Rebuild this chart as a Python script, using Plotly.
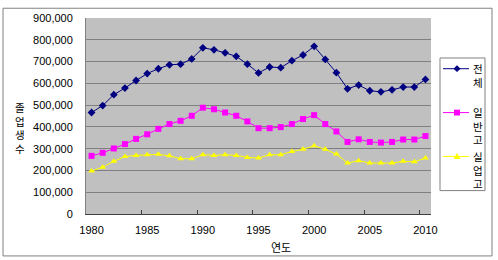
import plotly.graph_objects as go

years = list(range(1980, 2011))
total = [466000, 498000, 548000, 578000, 613000, 645000, 667000, 685000, 688000, 712000,
         763000, 754000, 740000, 724000, 688000, 648000, 675000, 672000, 704000, 730000,
         770000, 710000, 649000, 575000, 592000, 566000, 561000, 570000, 583000, 583000, 618000]
general = [267000, 281000, 301000, 321000, 345000, 366000, 391000, 413000, 428000, 451000,
           488000, 481000, 466000, 451000, 425000, 394000, 394000, 399000, 413000, 436000,
           454000, 413000, 379000, 331000, 343000, 331000, 328000, 331000, 342000, 342000, 358000]
vocational = [197000, 215000, 242000, 264000, 269000, 272000, 274000, 267000, 254000, 254000,
              272000, 269000, 272000, 269000, 260000, 257000, 272000, 272000, 287000, 297000,
              313000, 297000, 275000, 234000, 245000, 234000, 234000, 234000, 242000, 240000, 257000]
series_names = ["전체", "일반고", "실업고"]
x_labels = [1980, 1985, 1990, 1995, 2000, 2005, 2010]
y_ticks = list(range(0, 900001, 100000))
y_labels = ["0"] + [f"{v:,}" for v in y_ticks[1:]]
x_title = "연도"
y_title = "졸업생수"

FONT = "Liberation Sans, Arial, Noto Sans CJK KR, sans-serif"
KFONT = "Noto Sans CJK KR, sans-serif"

# plot area in pixels
L, R, T, B = 86, 431, 13, 214


def px(x):
    return (x - L) / (R - L)


def py(y):
    return (B - y) / (B - T)


fig = go.Figure()
styles = [("#000080", "diamond"), ("#FF00FF", "square"), ("#FFFF00", "triangle-up")]
for name, vals, (col, sym) in zip(series_names, [total, general, vocational], styles):
    fig.add_trace(go.Scatter(x=years, y=vals, name=name, mode="lines+markers",
                             line=dict(color=col, width=1),
                             marker=dict(color=col, symbol=sym, size=6)))

shapes = [
    dict(type="rect", xref="paper", yref="paper", x0=px(3), x1=px(492),
         y0=py(257), y1=py(3), line=dict(color="#808080", width=1), layer="below"),
    # legend box
    dict(type="rect", xref="paper", yref="paper", x0=px(440), x1=px(485),
         y0=py(190), y1=py(54), line=dict(color="#808080", width=1),
         fillcolor="white", layer="below"),
]


def vtext(text, x, y, size):
    return dict(text="<br>".join(text), xref="paper", yref="paper", x=px(x), y=py(y),
                showarrow=False, font=dict(size=size, family=KFONT),
                xanchor="center", yanchor="middle", borderpad=0)


annotations = [
    dict(text=x_title, xref="paper", yref="paper", x=px(281), y=py(248),
         showarrow=False, font=dict(size=11, family=KFONT), xanchor="center", yanchor="middle"),
    vtext(y_title, 20, 126, 10.5),
]

# legend (manual, vertical text)
leg_y = [65, 110, 155]
for name, (col, sym), yy in zip(series_names, styles, leg_y):
    shapes.append(dict(type="line", xref="paper", yref="paper", x0=px(443), x1=px(469),
                       y0=py(yy), y1=py(yy), line=dict(color=col, width=1)))
    cx = 457
    if sym == "diamond":
        path = f"M {px(cx)},{py(yy-3.5)} L {px(cx+3.5)},{py(yy)} L {px(cx)},{py(yy+3.5)} L {px(cx-3.5)},{py(yy)} Z"
    elif sym == "square":
        path = f"M {px(cx-3)},{py(yy-3)} L {px(cx+3)},{py(yy-3)} L {px(cx+3)},{py(yy+3)} L {px(cx-3)},{py(yy+3)} Z"
    else:
        path = f"M {px(cx)},{py(yy-3.5)} L {px(cx+3.5)},{py(yy+2.5)} L {px(cx-3.5)},{py(yy+2.5)} Z"
    shapes.append(dict(type="path", xref="paper", yref="paper", path=path,
                       fillcolor=col, line=dict(color=col, width=0)))
    annotations.append(vtext(name, 478, yy + 13.65 * (len(name) - 1) / 2, 10.5))

fig.update_layout(
    width=498, height=260,
    margin=dict(l=L, r=498 - R, t=T, b=260 - B),
    paper_bgcolor="white", plot_bgcolor="#C0C0C0",
    font=dict(family=FONT, size=11, color="black"),
    showlegend=False,
    xaxis=dict(range=[1979.5, 2010.5], tickmode="array", tickvals=x_labels,
               ticktext=[str(v) for v in x_labels], ticks="", showgrid=False,
               showline=True, linecolor="#404040", linewidth=1, zeroline=False,
               ticklabelstandoff=6,
               minor=dict(tickmode="array", tickvals=[1984.5, 1989.5, 1994.5, 1999.5, 2004.5, 2009.5],
                          ticks="inside", ticklen=4, tickcolor="#404040", showgrid=False)),
    yaxis=dict(range=[0, 900000], tickmode="array", tickvals=y_ticks, ticktext=y_labels,
               showgrid=True, gridcolor="#808080", gridwidth=1, showline=True,
               linecolor="#808080", zeroline=False, ticks="", ticklabelstandoff=10),
    shapes=shapes,
    annotations=annotations,
)

fig.write_html("out.html")
